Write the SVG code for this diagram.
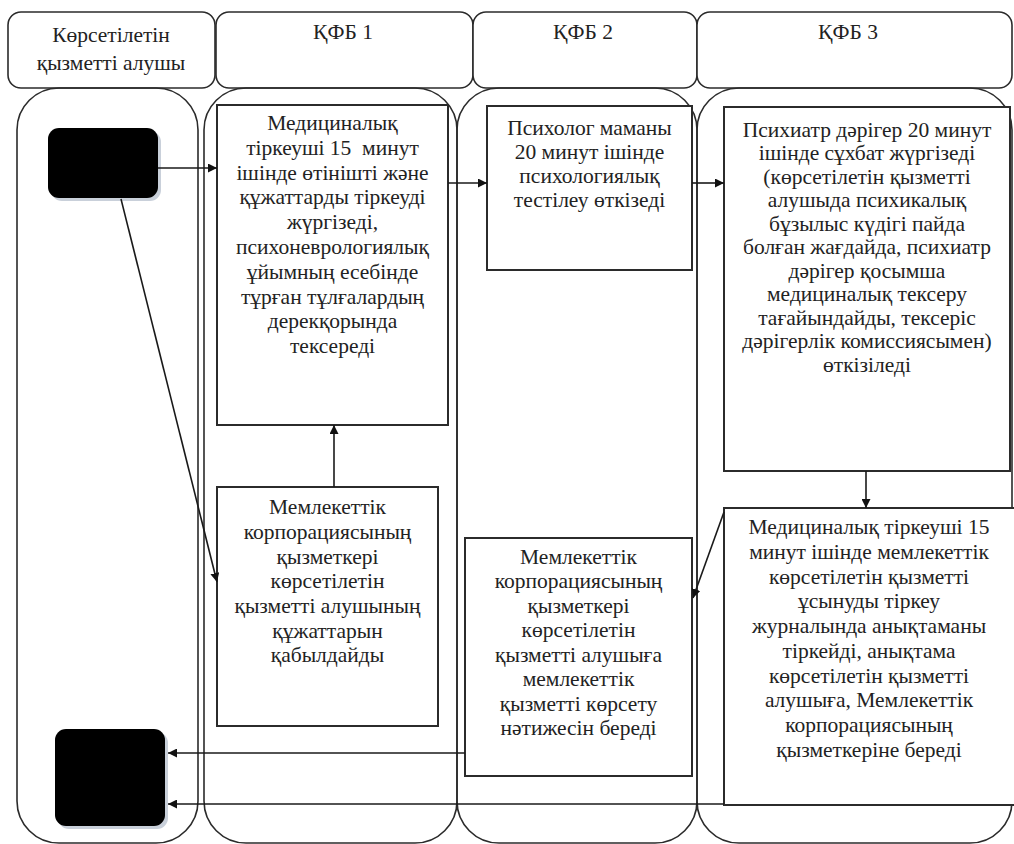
<svg xmlns="http://www.w3.org/2000/svg" width="1014" height="844" viewBox="0 0 1014 844">
<defs>
<style>
.hdr{fill:#fff;stroke:#2b2b2b;stroke-width:1.6}
.lane{fill:none;stroke:#2b2b2b;stroke-width:1.6}
.box{fill:#fff;stroke:#2b2b2b;stroke-width:2}
.c{stroke:#1a1a1a;stroke-width:1.6;fill:none}
</style>
<marker id="ah" viewBox="0 0 10 10" refX="10" refY="5" markerWidth="9" markerHeight="9" markerUnits="userSpaceOnUse" orient="auto">
<path d="M0,0 L10,5 L0,10 z" fill="#111"/>
</marker>
</defs>
<rect width="1014" height="844" fill="#fff"/>

<g font-family="Liberation Serif, Times New Roman, serif" font-size="21.5" fill="#222" text-anchor="middle">
<g id="lanes">
<rect class="hdr" x="8" y="12" width="207" height="76" rx="13"/>
<rect class="hdr" x="216" y="12" width="257" height="76" rx="13"/>
<rect class="hdr" x="473" y="12" width="224" height="76" rx="13"/>
<rect class="hdr" x="697" y="12" width="315" height="76" rx="13"/>
<rect class="lane" x="17" y="88" width="181" height="755" rx="42"/>
<rect class="lane" x="204" y="88" width="253" height="755" rx="42"/>
<rect class="lane" x="457" y="88" width="240" height="755" rx="42"/>
<rect class="lane" x="697" y="88" width="315" height="755" rx="42"/>
<text x="111" y="42">Көрсетілетін</text>
<text x="111" y="70">қызметті алушы</text>
<text x="343" y="39">ҚФБ 1</text>
<text x="583" y="39">ҚФБ 2</text>
<text x="848" y="39">ҚФБ 3</text>
</g>

<g id="start">
<rect x="51" y="131" width="110" height="70" rx="11" fill="#c9d0da"/>
<rect x="48" y="128" width="110" height="70" rx="11" fill="#000"/>
</g>

<g id="end">
<rect x="58" y="732" width="110" height="97" rx="11" fill="#c9d0da"/>
<rect x="55" y="729" width="110" height="97" rx="11" fill="#000"/>
</g>

<g id="boxA">
<rect class="box" x="217" y="105" width="231" height="320"/>
<text xml:space="preserve"><tspan x="332.5" y="130">Медициналық</tspan><tspan x="332.5" y="155">тіркеуші 15  минут</tspan><tspan x="332.5" y="180">ішінде өтінішті және</tspan><tspan x="332.5" y="204">құжаттарды тіркеуді</tspan><tspan x="332.5" y="229">жүргізеді,</tspan><tspan x="332.5" y="254">психоневрологиялық</tspan><tspan x="332.5" y="279">ұйымның есебінде</tspan><tspan x="332.5" y="304">тұрған тұлғалардың</tspan><tspan x="332.5" y="328">дерекқорында</tspan><tspan x="332.5" y="353">тексереді</tspan></text>
</g>

<g id="boxB">
<rect class="box" x="217" y="487" width="221" height="239"/>
<text><tspan x="327.5" y="514">Мемлекеттік</tspan><tspan x="327.5" y="539">корпорациясының</tspan><tspan x="327.5" y="564">қызметкері</tspan><tspan x="327.5" y="588">көрсетілетін</tspan><tspan x="327.5" y="613">қызметті алушының</tspan><tspan x="327.5" y="638">құжаттарын</tspan><tspan x="327.5" y="662">қабылдайды</tspan></text>
</g>

<g id="boxC">
<rect class="box" x="487" y="106" width="205" height="164"/>
<text><tspan x="589.5" y="135">Психолог маманы</tspan><tspan x="589.5" y="159">20 минут ішінде</tspan><tspan x="589.5" y="183">психологиялық</tspan><tspan x="589.5" y="207">тестілеу өткізеді</tspan></text>
</g>

<g id="boxD">
<rect class="box" x="465" y="538" width="227" height="238"/>
<text><tspan x="578.5" y="564">Мемлекеттік</tspan><tspan x="578.5" y="588">корпорациясының</tspan><tspan x="578.5" y="613">қызметкері</tspan><tspan x="578.5" y="637">көрсетілетін</tspan><tspan x="578.5" y="662">қызметті алушыға</tspan><tspan x="578.5" y="686">мемлекеттік</tspan><tspan x="578.5" y="711">қызметті көрсету</tspan><tspan x="578.5" y="735">нәтижесін береді</tspan></text>
</g>

<g id="boxE">
<rect class="box" x="724" y="107" width="286" height="364"/>
<text><tspan x="867" y="137">Психиатр дәрігер 20 минут</tspan><tspan x="867" y="160">ішінде сұхбат жүргізеді</tspan><tspan x="867" y="184">(көрсетілетін қызметті</tspan><tspan x="867" y="207">алушыда психикалық</tspan><tspan x="867" y="231">бұзылыс күдігі пайда</tspan><tspan x="867" y="254">болған жағдайда, психиатр</tspan><tspan x="867" y="278">дәрігер қосымша</tspan><tspan x="867" y="301">медициналық тексеру</tspan><tspan x="867" y="325">тағайындайды, тексеріс</tspan><tspan x="867" y="348">дәрігерлік комиссиясымен)</tspan><tspan x="867" y="372">өткізіледі</tspan></text>
</g>

<g id="boxF">
<rect class="box" x="724" y="508" width="296" height="297"/>
<text><tspan x="869" y="534">Медициналық тіркеуші 15</tspan><tspan x="869" y="559">минут ішінде мемлекеттік</tspan><tspan x="869" y="584">көрсетілетін қызметті</tspan><tspan x="869" y="608">ұсынуды тіркеу</tspan><tspan x="869" y="633">журналында анықтаманы</tspan><tspan x="869" y="658">тіркейді, анықтама</tspan><tspan x="869" y="683">көрсетілетін қызметті</tspan><tspan x="869" y="707">алушыға, Мемлекеттік</tspan><tspan x="869" y="732">корпорациясының</tspan><tspan x="869" y="757">қызметкеріне береді</tspan></text>
</g>
</g>

<g id="connectors">
<line class="c" x1="158" y1="168" x2="217" y2="168" marker-end="url(#ah)"/>
<line class="c" x1="448" y1="183" x2="487" y2="183" marker-end="url(#ah)"/>
<line class="c" x1="692" y1="183" x2="724" y2="183" marker-end="url(#ah)"/>
<line class="c" x1="866" y1="471" x2="866" y2="508" marker-end="url(#ah)"/>
<line class="c" x1="724" y1="512" x2="693" y2="598" marker-end="url(#ah)"/>
<line class="c" x1="334" y1="487" x2="334" y2="425" marker-end="url(#ah)"/>
<line class="c" x1="121" y1="199" x2="217" y2="582" marker-end="url(#ah)"/>
<line class="c" x1="465" y1="753" x2="168" y2="753" marker-end="url(#ah)"/>
<line class="c" x1="724" y1="804" x2="168" y2="804" marker-end="url(#ah)"/>
</g>
</svg>
